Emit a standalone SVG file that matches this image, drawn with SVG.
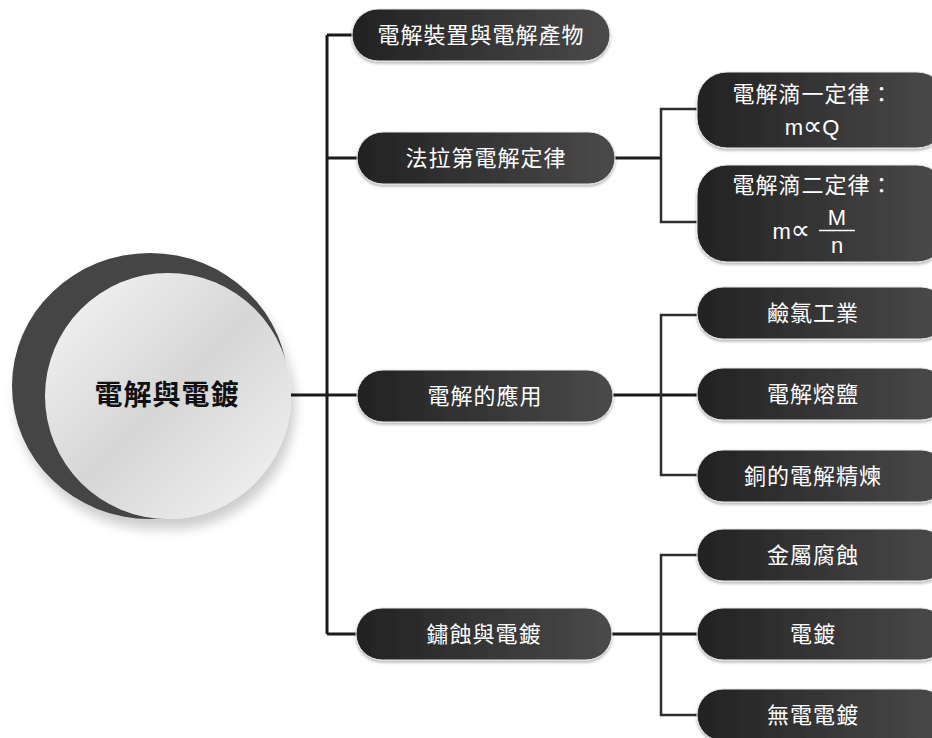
<svg xmlns="http://www.w3.org/2000/svg" width="932" height="738" viewBox="0 0 932 738">
<defs>
<linearGradient id="pill" x1="0" y1="0" x2="1" y2="0">
<stop offset="0" stop-color="#222222"/>
<stop offset="1" stop-color="#4a4a4a"/>
</linearGradient>
<linearGradient id="ball" x1="0" y1="0" x2="1" y2="1">
<stop offset="0" stop-color="#f7f7f7"/>
<stop offset="0.5" stop-color="#d6d6d6"/>
<stop offset="1" stop-color="#f5f5f5"/>
</linearGradient>
<filter id="sh" x="-20%" y="-20%" width="140%" height="150%">
<feGaussianBlur in="SourceAlpha" stdDeviation="6"/>
<feOffset dx="4" dy="10" result="b"/>
<feComponentTransfer><feFuncA type="linear" slope="0.2"/></feComponentTransfer>
<feMerge><feMergeNode/><feMergeNode in="SourceGraphic"/></feMerge>
</filter>
<filter id="ps" x="-10%" y="-20%" width="120%" height="150%">
<feGaussianBlur in="SourceAlpha" stdDeviation="1.5"/>
<feOffset dx="0" dy="2"/>
<feComponentTransfer><feFuncA type="linear" slope="0.3"/></feComponentTransfer>
<feMerge><feMergeNode/><feMergeNode in="SourceGraphic"/></feMerge>
</filter>
</defs>
<style>
.p{fill:url(#pill);stroke:#e8e8e8;stroke-width:1;filter:url(#ps)}
.t{font-family:"Noto Sans CJK TC","Noto Sans CJK SC",sans-serif;font-size:22px;fill:#ffffff;text-anchor:middle;letter-spacing:1px}
.m{font-family:"Liberation Sans","Noto Sans",sans-serif;font-size:22px;fill:#ffffff;text-anchor:middle}
.me{font-family:"Liberation Sans","Noto Sans",sans-serif;font-size:22px;fill:#ffffff;text-anchor:end}
.pr{font-family:"DejaVu Sans",sans-serif;font-size:27px}
.c1{stroke:#1a1a1a;stroke-width:3;fill:none}
.c2{stroke:#2e2e2e;stroke-width:2.5;fill:none}
</style>
<g id="connectors">
<path class="c1" d="M290 395H357M327 35V634M327 35H352M327 158H357M327 634H357"/>
<path class="c1" d="M615 158H661M613 395H697M612 634H697"/>
<path class="c2" d="M697 109H661V222H697M697 315H661V475H697M697 555H661V715H697"/>
</g>
<g id="root">
<g filter="url(#sh)">
<ellipse cx="150" cy="386" rx="138" ry="133" fill="#444444"/>
<circle cx="168" cy="396" r="123" fill="url(#ball)"/>
</g>
<text x="167" y="405" font-family="'Noto Sans CJK TC','Noto Sans CJK SC',sans-serif" font-size="28" font-weight="bold" fill="#111111" text-anchor="middle" letter-spacing="1">電解與電鍍</text>
</g>
<g id="n1"><rect class="p" x="352" y="9" width="258" height="52" rx="26"/><text class="t" x="481" y="43">電解裝置與電解產物</text></g>
<g id="n2"><rect class="p" x="357" y="132" width="258" height="52" rx="26"/><text class="t" x="486" y="166">法拉第電解定律</text></g>
<g id="n3"><rect class="p" x="357" y="370" width="256" height="52" rx="26"/><text class="t" x="485" y="404">電解的應用</text></g>
<g id="n4"><rect class="p" x="356" y="608" width="256" height="52" rx="26"/><text class="t" x="484" y="642">鏽蝕與電鍍</text></g>
<g id="n21"><rect class="p" x="697" y="72" width="250" height="76" rx="30"/><text class="t" x="813" y="102">電解滴一定律：</text><text class="m" x="812" y="135">m<tspan class="pr">∝</tspan>Q</text></g>
<g id="n22"><rect class="p" x="697" y="165" width="250" height="97" rx="30"/><text class="t" x="813" y="193">電解滴二定律：</text><text class="me" x="810" y="239">m<tspan class="pr">∝</tspan></text><text class="m" x="837" y="225">M</text><line x1="819" y1="230.500" x2="855" y2="230.500" stroke="#ffffff" stroke-width="1.5"/><text class="m" x="837" y="253">n</text></g>
<g id="n31"><rect class="p" x="697" y="287" width="250" height="52" rx="26"/><text class="t" x="813" y="321">鹼氯工業</text></g>
<g id="n32"><rect class="p" x="697" y="368" width="250" height="52" rx="26"/><text class="t" x="813" y="402">電解熔鹽</text></g>
<g id="n33"><rect class="p" x="697" y="450" width="250" height="52" rx="26"/><text class="t" x="813" y="484">銅的電解精煉</text></g>
<g id="n41"><rect class="p" x="697" y="529" width="250" height="52" rx="26"/><text class="t" x="813" y="563">金屬腐蝕</text></g>
<g id="n42"><rect class="p" x="697" y="608" width="250" height="52" rx="26"/><text class="t" x="813" y="642">電鍍</text></g>
<g id="n43"><rect class="p" x="697" y="689" width="250" height="52" rx="26"/><text class="t" x="813" y="723">無電電鍍</text></g>
</svg>
